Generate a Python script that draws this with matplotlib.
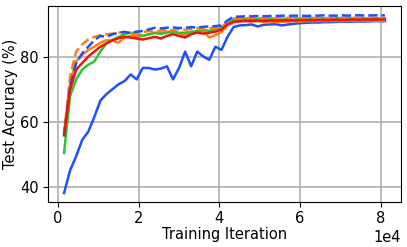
import numpy as np
import matplotlib
matplotlib.use("Agg")
import matplotlib.pyplot as plt

# training iterations (every 1500 steps)
iters = np.arange(1500, 81001, 1500)

blue_solid = [38.2, 45.2, 49.5, 54.5, 57.0, 61.5, 66.5, 68.5, 70.0, 71.5,
              72.5, 74.5, 73.0, 76.5, 76.5, 76.0, 76.3, 77.0, 73.0, 76.5,
              81.5, 77.0, 81.5, 80.0, 79.0, 83.0, 82.0, 86.0, 89.0, 89.5,
              89.6, 89.8, 89.2, 89.7, 89.8, 89.9, 89.5, 89.8, 90.0, 90.2,
              90.3, 90.4, 90.4, 90.5, 90.5, 90.6, 90.6, 90.6, 90.7, 90.7,
              90.7, 90.8, 90.8, 90.8]
blue_dashed = [55.5, 71.0, 78.0, 81.0, 83.0, 85.0, 86.3, 86.0, 86.8, 87.3,
               87.5, 87.2, 87.6, 87.8, 88.3, 88.8, 88.6, 88.8, 88.9, 88.7,
               88.8, 89.0, 88.8, 89.1, 89.2, 89.3, 89.5, 91.0, 92.2, 92.2,
               92.3, 92.3, 92.4, 92.3, 92.4, 92.4, 92.5, 92.4, 92.5, 92.5,
               92.4, 92.5, 92.5, 92.6, 92.5, 92.5, 92.6, 92.5, 92.6, 92.6,
               92.5, 92.6, 92.6, 92.6]
orange_solid = [56.5, 72.0, 78.5, 80.5, 82.0, 83.0, 84.2, 85.0, 84.8, 84.2,
                85.8, 86.3, 86.0, 86.3, 86.8, 87.3, 87.0, 87.5, 87.8, 87.2,
                86.5, 87.5, 87.8, 87.8, 85.8, 86.5, 87.5, 89.5, 90.5, 90.7,
                90.8, 90.7, 90.8, 90.6, 90.7, 90.5, 90.6, 90.7, 90.8, 90.7,
                90.8, 90.8, 90.9, 90.8, 90.9, 90.9, 90.8, 90.9, 91.0, 90.9,
                91.0, 91.0, 90.9, 91.0]
orange_dashed = [56.0, 74.0, 81.5, 83.7, 85.2, 86.0, 86.5, 86.8, 87.0, 87.3,
                 87.5, 87.0, 86.8, 87.5, 87.8, 87.6, 87.9, 88.2, 88.0, 88.5,
                 88.2, 88.4, 88.7, 88.3, 88.6, 88.8, 89.0, 90.5, 91.6, 91.8,
                 91.7, 91.8, 91.6, 91.7, 91.8, 91.6, 91.7, 91.8, 91.7, 91.6,
                 91.7, 91.8, 91.7, 91.7, 91.8, 91.7, 91.6, 91.7, 91.8, 91.7,
                 91.7, 91.8, 91.7, 91.7]
green_solid = [50.5, 68.0, 73.0, 76.0, 77.5, 78.5, 81.5, 84.0, 85.0, 86.0,
               86.8, 87.3, 86.8, 86.3, 86.8, 87.2, 87.0, 87.3, 87.5, 87.2,
               87.3, 87.5, 87.8, 88.0, 87.9, 88.3, 88.8, 90.5, 91.2, 91.4,
               91.5, 91.5, 91.6, 91.5, 91.6, 91.6, 91.5, 91.6, 91.7, 91.6,
               91.7, 91.7, 91.6, 91.7, 91.7, 91.7, 91.8, 91.7, 91.7, 91.8,
               91.7, 91.8, 91.7, 91.8]
red_solid = [56.0, 70.0, 76.0, 78.0, 80.0, 81.5, 83.0, 84.0, 85.0, 85.6,
             86.0, 85.8, 85.5, 85.2, 85.6, 86.0, 85.5, 86.3, 86.8, 86.3,
             85.8, 86.8, 87.3, 87.0, 87.3, 87.6, 88.2, 89.8, 90.6, 90.8,
             90.9, 90.9, 91.0, 90.9, 91.0, 91.0, 91.0, 91.1, 91.0, 91.1,
             91.1, 91.1, 91.2, 91.1, 91.2, 91.2, 91.2, 91.2, 91.3, 91.2,
             91.3, 91.3, 91.3, 91.3]

BLUE = "#1f4fff"
ORANGE = "#ff7f0e"
GREEN = "#2fc42f"
RED = "#e8160c"
FS = 10.5

fig = plt.figure(figsize=(4.07, 2.47), dpi=100)
ax = fig.add_axes([0.118, 0.182, 0.867, 0.792])

lw = 1.8
ax.plot(iters, blue_solid, "-", color=BLUE, lw=lw)
ax.plot(iters, orange_solid, "-", color=ORANGE, lw=lw)
ax.plot(iters, green_solid, "-", color=GREEN, lw=lw)
ax.plot(iters, orange_dashed, "--", color=ORANGE, lw=lw)
ax.plot(iters, blue_dashed, "--", color=BLUE, lw=lw)
ax.plot(iters, red_solid, "-", color=RED, lw=lw)

ax.grid(True, color="#b0b0b0", lw=1.2)
ax.set_axisbelow(True)
ax.set_yticks([40, 60, 80])
ax.set_xticks([0, 20000, 40000, 60000, 80000])
ax.ticklabel_format(axis="x", style="sci", scilimits=(0, 0))
ax.tick_params(labelsize=FS, pad=3)
ax.xaxis.get_offset_text().set_fontsize(FS)
ax.set_xlabel("Training Iteration", fontsize=FS, labelpad=1)
ax.set_ylabel("Test Accuracy (%)", fontsize=FS, labelpad=2)

fig.savefig("out.png", dpi=100)
